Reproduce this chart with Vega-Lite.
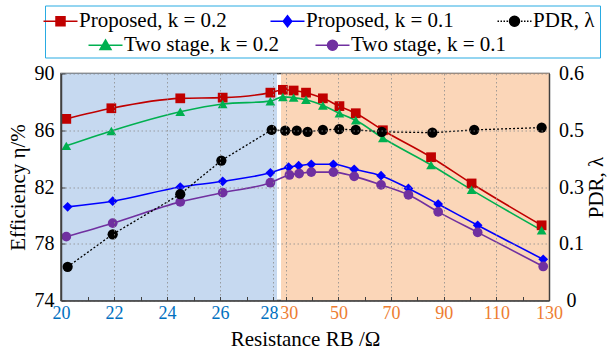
{
  "$schema": "https://vega.github.io/schema/vega-lite/v6.json",
  "width": 488,
  "height": 227,
  "autosize": "none",
  "padding": {"left": 61, "top": 73.5, "right": 60, "bottom": 53.5},
  "background": "white",
  "config": {"view": {"stroke": "#404040", "strokeWidth": 1.5}, "font": "Liberation Serif"},
  "datasets": {
    "regions": [
      {"region": "low", "R": 20, "R2": 28.15},
      {"region": "high", "R": 28.2, "R2": 130}
    ],
    "eff": [
      {"s": "Proposed, k = 0.2", "R": 20.2, "eta": 86.8},
      {"s": "Proposed, k = 0.2", "R": 21.9, "eta": 87.55},
      {"s": "Proposed, k = 0.2", "R": 24.5, "eta": 88.25},
      {"s": "Proposed, k = 0.2", "R": 26.1, "eta": 88.3},
      {"s": "Proposed, k = 0.2", "R": 27.9, "eta": 88.65},
      {"s": "Proposed, k = 0.2", "R": 28.9, "eta": 88.85},
      {"s": "Proposed, k = 0.2", "R": 33, "eta": 88.8},
      {"s": "Proposed, k = 0.2", "R": 37.7, "eta": 88.65},
      {"s": "Proposed, k = 0.2", "R": 44.1, "eta": 88.25},
      {"s": "Proposed, k = 0.2", "R": 50.4, "eta": 87.7},
      {"s": "Proposed, k = 0.2", "R": 56.6, "eta": 87.2},
      {"s": "Proposed, k = 0.2", "R": 66.9, "eta": 86.0},
      {"s": "Proposed, k = 0.2", "R": 85.2, "eta": 84.1},
      {"s": "Proposed, k = 0.2", "R": 100.6, "eta": 82.25},
      {"s": "Proposed, k = 0.2", "R": 127.2, "eta": 79.3},
      {"s": "Two stage, k = 0.2", "R": 20.2, "eta": 84.9},
      {"s": "Two stage, k = 0.2", "R": 21.9, "eta": 85.95},
      {"s": "Two stage, k = 0.2", "R": 24.5, "eta": 87.3},
      {"s": "Two stage, k = 0.2", "R": 26.1, "eta": 87.85},
      {"s": "Two stage, k = 0.2", "R": 27.9, "eta": 88.05},
      {"s": "Two stage, k = 0.2", "R": 28.9, "eta": 88.35},
      {"s": "Two stage, k = 0.2", "R": 33, "eta": 88.3},
      {"s": "Two stage, k = 0.2", "R": 37.7, "eta": 88.15},
      {"s": "Two stage, k = 0.2", "R": 44.1, "eta": 87.75},
      {"s": "Two stage, k = 0.2", "R": 50.4, "eta": 87.2},
      {"s": "Two stage, k = 0.2", "R": 56.6, "eta": 86.7},
      {"s": "Two stage, k = 0.2", "R": 66.9, "eta": 85.45},
      {"s": "Two stage, k = 0.2", "R": 85.2, "eta": 83.55},
      {"s": "Two stage, k = 0.2", "R": 100.6, "eta": 81.8},
      {"s": "Two stage, k = 0.2", "R": 127.2, "eta": 78.95},
      {"s": "Proposed, k = 0.1", "R": 20.25, "eta": 80.6},
      {"s": "Proposed, k = 0.1", "R": 21.95, "eta": 81.0},
      {"s": "Proposed, k = 0.1", "R": 24.5, "eta": 82.0},
      {"s": "Proposed, k = 0.1", "R": 26.1, "eta": 82.4},
      {"s": "Proposed, k = 0.1", "R": 27.9, "eta": 83.0},
      {"s": "Proposed, k = 0.1", "R": 31.1, "eta": 83.4},
      {"s": "Proposed, k = 0.1", "R": 34.9, "eta": 83.5},
      {"s": "Proposed, k = 0.1", "R": 39.7, "eta": 83.6},
      {"s": "Proposed, k = 0.1", "R": 48.1, "eta": 83.6},
      {"s": "Proposed, k = 0.1", "R": 56, "eta": 83.25},
      {"s": "Proposed, k = 0.1", "R": 66.2, "eta": 82.8},
      {"s": "Proposed, k = 0.1", "R": 76.6, "eta": 81.9},
      {"s": "Proposed, k = 0.1", "R": 87.9, "eta": 80.8},
      {"s": "Proposed, k = 0.1", "R": 102.9, "eta": 79.3},
      {"s": "Proposed, k = 0.1", "R": 127.8, "eta": 76.9},
      {"s": "Two stage, k = 0.1", "R": 20.2, "eta": 78.5},
      {"s": "Two stage, k = 0.1", "R": 21.95, "eta": 79.45},
      {"s": "Two stage, k = 0.1", "R": 24.5, "eta": 80.95},
      {"s": "Two stage, k = 0.1", "R": 26.1, "eta": 81.6},
      {"s": "Two stage, k = 0.1", "R": 27.9, "eta": 82.3},
      {"s": "Two stage, k = 0.1", "R": 31.4, "eta": 82.85},
      {"s": "Two stage, k = 0.1", "R": 35.1, "eta": 82.95},
      {"s": "Two stage, k = 0.1", "R": 39.7, "eta": 83.05},
      {"s": "Two stage, k = 0.1", "R": 48.1, "eta": 83.05},
      {"s": "Two stage, k = 0.1", "R": 56, "eta": 82.75},
      {"s": "Two stage, k = 0.1", "R": 66.2, "eta": 82.15},
      {"s": "Two stage, k = 0.1", "R": 76.6, "eta": 81.45},
      {"s": "Two stage, k = 0.1", "R": 87.9, "eta": 80.25},
      {"s": "Two stage, k = 0.1", "R": 102.9, "eta": 78.8},
      {"s": "Two stage, k = 0.1", "R": 127.8, "eta": 76.4}
    ],
    "pdr": [
      {"s": "PDR, λ", "R": 20.25, "pdr": 0.089},
      {"s": "PDR, λ", "R": 21.95, "pdr": 0.175},
      {"s": "PDR, λ", "R": 24.5, "pdr": 0.281},
      {"s": "PDR, λ", "R": 26.05, "pdr": 0.37},
      {"s": "PDR, λ", "R": 27.95, "pdr": 0.451},
      {"s": "PDR, λ", "R": 29.8, "pdr": 0.449},
      {"s": "PDR, λ", "R": 34.2, "pdr": 0.449},
      {"s": "PDR, λ", "R": 38.3, "pdr": 0.446},
      {"s": "PDR, λ", "R": 44.1, "pdr": 0.451},
      {"s": "PDR, λ", "R": 50.3, "pdr": 0.453},
      {"s": "PDR, λ", "R": 56.6, "pdr": 0.451},
      {"s": "PDR, λ", "R": 66.5, "pdr": 0.446},
      {"s": "PDR, λ", "R": 85.7, "pdr": 0.4435},
      {"s": "PDR, λ", "R": 101.6, "pdr": 0.451},
      {"s": "PDR, λ", "R": 127.2, "pdr": 0.457}
    ]
  },
  "encoding": {
    "x": {
      "field": "R", "type": "quantitative",
      "scale": {"domain": [20, 28.15, 28.2, 130], "range": [0, 216, 220, 488], "nice": false, "zero": false},
      "axis": {
        "values": [20, 21, 22, 23, 24, 25, 26, 27, 28, 30, 40, 50, 60, 70, 80, 90, 100, 110, 120, 130],
        "format": "d",
        "labelExpr": "indexof([20,22,24,26,28,30,50,70,90,110,130], datum.value) >= 0 ? datum.label : ''",
        "labelColor": {"condition": {"test": "datum.value < 29", "value": "#0070c0"}, "value": "#ed7d31"},
        "labelOffset": {"condition": [{"test": "datum.value == 28", "value": -4}, {"test": "datum.value == 30", "value": 3}], "value": 0},
        "labelFont": "Liberation Serif", "labelFontSize": 18,
        "labelOverlap": false, "labelFlush": false, "labelPadding": 8,
        "tickSize": -4, "tickColor": "#404040", "tickWidth": 1,
        "domainColor": "#404040", "domainWidth": 1.5,
        "grid": true, "gridColor": "#8c8c8c", "gridDash": [1.5, 2.5], "gridWidth": 1,
        "gridOpacity": {"condition": {"test": "indexof([22,24,26,28,30,50,70,90,110], datum.value) >= 0", "value": 0.8}, "value": 0},
        "title": "Resistance RB /Ω", "titleFont": "Liberation Serif", "titleFontSize": 21, "titleFontWeight": "normal", "titleColor": "black", "titlePadding": 6,
        "zindex": 1
      }
    }
  },
  "layer": [
    {
      "data": {"name": "regions"},
      "mark": {"type": "rect"},
      "encoding": {
        "x2": {"field": "R2"},
        "color": {"condition": {"test": "datum.region === 'low'", "value": "#c6d9f0"}, "value": "#fbd6b8"}
      }
    },
    {
      "data": {"name": "eff"},
      "transform": [{"filter": {"field": "s", "oneOf": ["Proposed, k = 0.2", "Proposed, k = 0.1"]}}],
      "mark": {"type": "line", "interpolate": "monotone", "strokeWidth": 1.6},
      "encoding": {
        "y": {"field": "eta", "type": "quantitative",
          "scale": {"domain": [74, 90], "nice": false, "zero": false},
          "axis": {"orient": "left", "values": [74, 78, 82, 86, 90], "format": "d",
            "labelFont": "Liberation Serif", "labelFontSize": 20, "labelColor": "black", "labelPadding": 11,
            "tickSize": -4, "tickColor": "#404040", "domainColor": "#404040", "domainWidth": 1.5,
            "grid": true, "gridColor": "#8c8c8c", "gridDash": [1.5, 2.5], "gridOpacity": 0.8,
            "title": "Efficiency η/%", "titleFont": "Liberation Serif", "titleFontSize": 21, "titleFontWeight": "normal", "titleColor": "black", "titlePadding": 6, "zindex": 1}},
        "color": {"field": "s", "type": "nominal",
          "scale": {"domain": ["Proposed, k = 0.2", "Proposed, k = 0.1", "PDR, λ"], "range": ["#c00000", "#0000ff", "#000000"]},
          "legend": {"orient": "none", "legendX": -16, "legendY": -68, "direction": "horizontal", "columns": 3,
            "values": ["Proposed, k = 0.2", "Proposed, k = 0.1", "PDR, λ"],
            "title": "\u00a0\u00a0\u00a0\u00a0\u00a0\u00a0\u00a0\u00a0\u00a0\u00a0\u00a0\u00a0\u00a0\u00a0\u00a0\u00a0\u00a0\u00a0\u00a0\u00a0\u00a0\u00a0\u00a0\u00a0\u00a0\u00a0\u00a0\u00a0\u00a0\u00a0\u00a0\u00a0\u00a0\u00a0\u00a0\u00a0\u00a0\u00a0\u00a0\u00a0\u00a0\u00a0\u00a0\u00a0\u00a0\u00a0\u00a0\u00a0\u00a0\u00a0\u00a0\u00a0\u00a0\u00a0\u00a0\u00a0\u00a0\u00a0\u00a0\u00a0\u00a0\u00a0\u00a0\u00a0\u00a0\u00a0\u00a0\u00a0\u00a0\u00a0\u00a0\u00a0\u00a0\u00a0\u00a0\u00a0\u00a0\u00a0\u00a0\u00a0\u00a0\u00a0\u00a0\u00a0\u00a0\u00a0\u00a0\u00a0\u00a0\u00a0\u00a0\u00a0\u00a0\u00a0\u00a0\u00a0\u00a0\u00a0\u00a0\u00a0\u00a0\u00a0\u00a0",
            "titleOrient": "bottom", "titleFont": "Liberation Serif", "titleFontSize": 21, "titlePadding": 0, "titleLimit": 1000,
            "labelFont": "Liberation Serif", "labelFontSize": 21, "labelColor": "black", "labelLimit": 400,
            "symbolSize": 100, "symbolOffset": 0, "labelOffset": 8, "columnPadding": 40, "padding": 5,
            "strokeColor": "#29abe2",
            "encode": {"symbols": {"update": {
              "shape": {"signal": "datum.value === 'Proposed, k = 0.2' ? 'M-3.4,0H3.4M-0.9,-0.9H0.9V0.9H-0.9Z' : datum.value === 'Proposed, k = 0.1' ? 'M-3.4,0H3.4M0,-1.1L0.85,0L0,1.1L-0.85,0Z' : 'M-3.4,0H-3.1M-2.8,0H-2.5M-2.2,0H-1.9M-1.6,0H-1.3M1.3,0H1.6M1.9,0H2.2M2.5,0H2.8M3.1,0H3.4M-1,0A1,1,0,1,1,1,0A1,1,0,1,1,-1,0Z'"},
              "fill": {"signal": "datum.value === 'Proposed, k = 0.2' ? '#c00000' : datum.value === 'Proposed, k = 0.1' ? '#0000ff' : '#000000'"},
              "stroke": {"signal": "datum.value === 'Proposed, k = 0.2' ? '#c00000' : datum.value === 'Proposed, k = 0.1' ? '#0000ff' : '#000000'"},
              "strokeWidth": {"value": 1.5}, "opacity": {"value": 1}, "fillOpacity": {"value": 1}, "strokeOpacity": {"value": 1}, "size": {"value": 100}
            }}}}
        }
      }
    },
    {
      "data": {"name": "eff"},
      "transform": [{"filter": {"field": "s", "oneOf": ["Two stage, k = 0.2", "Two stage, k = 0.1"]}}],
      "mark": {"type": "line", "interpolate": "monotone", "strokeWidth": 1.6},
      "encoding": {
        "y": {"field": "eta", "type": "quantitative",
          "scale": {"domain": [74, 90], "nice": false, "zero": false},
          "axis": null},
        "color": {"field": "s", "type": "nominal",
          "scale": {"domain": ["Two stage, k = 0.2", "Two stage, k = 0.1"], "range": ["#00b050", "#7030a0"]},
          "legend": {"orient": "none", "legendX": 34, "legendY": -39, "direction": "horizontal", "columns": 2,
            "values": ["Two stage, k = 0.2", "Two stage, k = 0.1"], "title": null,
            "labelFont": "Liberation Serif", "labelFontSize": 21, "labelColor": "black", "labelLimit": 400,
            "symbolSize": 100, "symbolOffset": 0, "labelOffset": 8, "columnPadding": 32, "padding": 0,
            "encode": {"symbols": {"update": {
              "shape": {"signal": "datum.value === 'Two stage, k = 0.2' ? 'M-3.4,0H3.4M0,-1.05L1.1,0.85L-1.1,0.85Z' : 'M-3.4,0H3.4M-1,0A1,1,0,1,1,1,0A1,1,0,1,1,-1,0Z'"},
              "fill": {"signal": "datum.value === 'Two stage, k = 0.2' ? '#00b050' : '#7030a0'"},
              "stroke": {"signal": "datum.value === 'Two stage, k = 0.2' ? '#00b050' : '#7030a0'"},
              "strokeWidth": {"value": 1.5}, "opacity": {"value": 1}, "fillOpacity": {"value": 1}, "strokeOpacity": {"value": 1}, "size": {"value": 100}
            }}}}
        }
      }
    },
    {
      "data": {"name": "eff"},
      "mark": {"type": "point", "filled": true, "opacity": 1, "size": 95},
      "encoding": {
        "y": {"field": "eta", "type": "quantitative",
          "scale": {"domain": [74, 90], "nice": false, "zero": false},
          "axis": null},
        "color": {"field": "s", "type": "nominal",
          "scale": {"domain": ["Two stage, k = 0.2", "Two stage, k = 0.1", "Proposed, k = 0.2", "Proposed, k = 0.1"], "range": ["#00b050", "#7030a0", "#c00000", "#0000ff"]},
          "legend": null
        },
        "shape": {"field": "s", "type": "nominal",
          "scale": {"domain": ["Proposed, k = 0.2", "Proposed, k = 0.1", "Two stage, k = 0.2", "Two stage, k = 0.1"], "range": ["square", "diamond", "triangle-up", "circle"]},
          "legend": null
        }
      }
    },
    {
      "data": {"name": "pdr"},
      "mark": {"type": "line", "strokeWidth": 1.3, "strokeDash": [2, 2], "color": "#000000"},
      "encoding": {
        "y": {"field": "pdr", "type": "quantitative",
          "scale": {"domain": [0, 0.6], "nice": false, "zero": false},
          "axis": {"orient": "right", "values": [0, 0.15, 0.3, 0.45, 0.6], "format": "~g",
            "labelFont": "Liberation Serif", "labelFontSize": 20, "labelColor": "black", "labelPadding": 22, "labelAlign": "center",
            "ticks": false, "domainColor": "#404040", "domainWidth": 1.5, "grid": false,
            "title": "PDR, λ", "titleFont": "Liberation Serif", "titleFontSize": 21, "titleFontWeight": "normal", "titleColor": "black", "titlePadding": 2, "titleAngle": 270, "titleBaseline": "top", "zindex": 1}}
      }
    },
    {
      "data": {"name": "pdr"},
      "mark": {"type": "point", "filled": true, "opacity": 1, "size": 105, "shape": "circle", "color": "#000000"},
      "encoding": {
        "y": {"field": "pdr", "type": "quantitative",
          "scale": {"domain": [0, 0.6], "nice": false, "zero": false},
          "axis": null}
      }
    }
  ],
  "resolve": {"scale": {"y": "independent", "color": "independent", "shape": "independent"}}
}
